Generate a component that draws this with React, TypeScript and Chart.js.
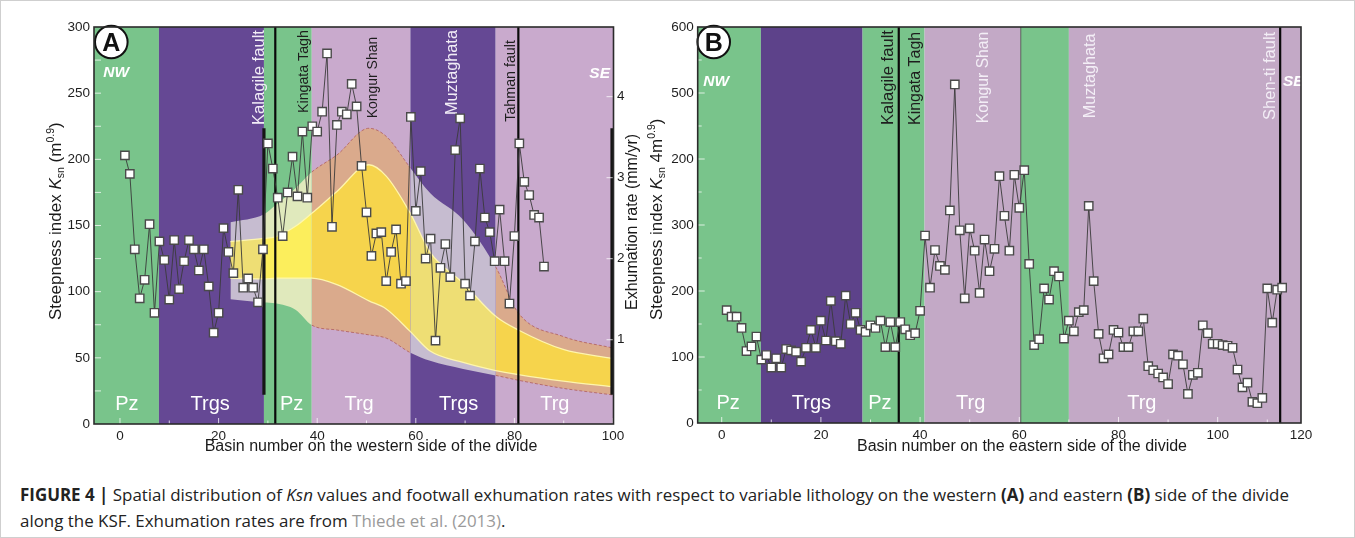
import { useEffect, useRef } from "react";
import { Chart, registerables } from "chart.js";

Chart.register(...registerables);

const FONT = "'Liberation Sans', Arial, Helvetica, sans-serif";
const CAPTION_FONT = "'Open Sans', 'Liberation Sans', Arial, sans-serif";

// ---------------- Panel A : western side ----------------
const basinA = Array.from({ length: 86 }, (_, i) => i + 1);
const ksnA = [
  203, 189, 132, 95, 109, 151, 84, 138, 124, 94,
  139, 102, 123, 139, 132, 116, 132, 104, 69, 84,
  148, 130, 114, 177, 103, 110, 103, 92, 132, 212,
  193, 171, 142, 175, 202, 172, 221, 171, 225, 221,
  236, 280, 149, 226, 236, 234, 257, 240, 195, 160,
  127, 144, 145, 108, 130, 147, 106, 108, 232, 161,
  191, 125, 140, 63, 118, 136, 111, 207, 231, 106,
  97, 138, 193, 156, 145, 123, 162, 123, 91, 142,
  212, 183, 173, 158, 156, 119,
];
const xTicksA = [0, 20, 40, 60, 80, 100];
const yTicksA = [0, 50, 100, 150, 200, 250, 300];
const exhTicksA = [1, 2, 3, 4];

// footwall exhumation rate envelopes (mm/yr), right axis of panel A
const exhX = [22.4, 29.2, 31.5, 35.6, 38.9, 44, 50.5, 54, 58.9, 62.9, 69.6, 76.2, 80.8, 89.9, 99.8];
const exhOuterUpper = [2.45, 2.55, 2.66, 2.87, 3.07, 3.28, 3.61, 3.51, 3.12, 2.81, 2.48, 1.9, 1.33, 1.04, 0.9];
const exhOuterLower = [1.5, 1.46, 1.45, 1.37, 1.18, 1.12, 1.06, 1.02, 0.84, 0.74, 0.64, 0.56, 0.5, 0.4, 0.32];
const exhInnerUpper = [2.21, 2.25, 2.27, 2.4, 2.56, 2.83, 3.16, 3.02, 2.56, 2.08, 1.7, 1.29, 1.12, 0.88, 0.77];
const exhInnerLower = [1.76, 1.75, 1.76, 1.76, 1.76, 1.68, 1.48, 1.38, 1.1, 0.86, 0.72, 0.62, 0.57, 0.49, 0.42];

const lithoBoundsA = [-5.27, 7.9, 29.2, 38.9, 58.9, 76.2, 100.1];
const lithoUnitsA = ["Pz", "Trgs", "Pz", "Trg", "Trgs", "Trg"];
const lithoLabelXA = [1.4, 18.3, 34.8, 48.5, 68.7, 88.2];
const faultsA = [31.5, 80.8];
const frameBarsA = [29.2, 100.1];
const frameBarRangeA = [0.32, 3.61];
const placeNamesA = ["Kalagile fault", "Kingata Tagh", "Kongur Shan", "Muztaghata", "Tahman fault"];
const placeXA = [27.9, 37.1, 51.2, 67.1, 79.0];

// ---------------- Panel B : eastern side ----------------
const basinB = Array.from({ length: 113 }, (_, i) => i + 1);
const ksnB = [
  171, 161, 161, 144, 109, 116, 131, 96, 103, 84,
  98, 84, 112, 110, 108, 93, 114, 141, 114, 155,
  125, 185, 124, 120, 193, 150, 167, 141, 138, 148,
  144, 155, 115, 153, 115, 153, 142, 133, 136, 170,
  284, 205, 262, 238, 232, 322, 513, 292, 189, 295,
  261, 197, 278, 230, 264, 374, 314, 261, 376, 326,
  383, 241, 118, 127, 204, 187, 230, 222, 128, 155,
  139, 168, 171, 329, 215, 135, 98, 104, 141, 137,
  115, 115, 139, 139, 158, 86, 80, 75, 69, 59,
  104, 102, 89, 44, 73, 76, 148, 136, 120, 120,
  118, 117, 114, 81, 54, 61, 32, 30, 38, 204,
  152, 202, 205,
];
const xTicksB = [0, 20, 40, 60, 80, 100, 116.8];
const xTickLabelsB = ["0", "20", "40", "60", "80", "100", "120"];
const yTicksB = [0, 100, 200, 300, 400, 500, 600];
const yTickLabelsB = ["0", "100", "200", "300", "200", "500", "600"];

const lithoBoundsB = [-4.84, 7.9, 28.4, 40.9, 60.3, 70.0, 116.8];
const lithoUnitsB = ["Pz", "Trgs", "Pz", "Trg", "Pz", "Trg"];
const lithoLabelB = ["Pz", "Trgs", "Pz", "Trg", "", "Trg"];
const lithoLabelXB = [1.3, 18.1, 31.9, 50.2, 65, 84.7];
const faultsB = [35.7, 112.6];
const thinLinesB = [60.3];
const placeNamesB = ["Kalagile fault", "Kingata Tagh", "Kongur Shan", "Muztaghata", "Shen-ti fault"];
const placeXB = [33.3, 38.9, 52.6, 74.0, 110.4];

// ---------------- styles ----------------
const paletteA: Record<string, string> = { Pz: "rgb(121,196,139)", Trgs: "rgb(101,72,148)", Trg: "rgb(201,170,205)" };
const paletteB: Record<string, string> = { Pz: "rgb(121,196,139)", Trgs: "rgb(93,66,138)", Trg: "rgb(195,169,198)" };
const overlayOuter: Record<string, string> = { Pz: "rgb(224,233,188)", Trgs: "rgb(198,188,208)", Trg: "rgb(218,170,140)" };
const overlayInner: Record<string, string> = { Pz: "rgb(252,238,92)", Trgs: "rgb(238,222,116)", Trg: "rgb(246,212,76)" };

type Part = { t: string; s: number; it?: boolean; b?: boolean; dy?: number };

function drawRich(ctx: CanvasRenderingContext2D, parts: Part[], x: number, y: number, rot: number, align: "start" | "center", color: string) {
  ctx.save();
  ctx.translate(x, y);
  ctx.rotate(rot);
  ctx.fillStyle = color;
  ctx.textBaseline = "alphabetic";
  ctx.textAlign = "left";
  const fontOf = (p: Part) => `${p.it ? "italic " : ""}${p.b ? "bold " : ""}${p.s}px ${FONT}`;
  let total = 0;
  const ws = parts.map((p) => {
    ctx.font = fontOf(p);
    const w = ctx.measureText(p.t).width;
    total += w;
    return w;
  });
  let cx = align === "center" ? -total / 2 : 0;
  parts.forEach((p, i) => {
    ctx.font = fontOf(p);
    ctx.fillText(p.t, cx, p.dy || 0);
    cx += ws[i];
  });
  ctx.restore();
}

function drawFitVertical(ctx: CanvasRenderingContext2D, text: string, cx: number, yBottom: number, yTop: number, color: string) {
  ctx.save();
  ctx.font = `100px ${FONT}`;
  const w = ctx.measureText(text).width;
  const size = (100 * (yBottom - yTop)) / w;
  ctx.font = `${size}px ${FONT}`;
  ctx.translate(cx + size * 0.36, yBottom);
  ctx.rotate(-Math.PI / 2);
  ctx.textAlign = "left";
  ctx.textBaseline = "alphabetic";
  ctx.fillStyle = color;
  ctx.fillText(text, 0, 0);
  ctx.restore();
}

function unitAt(bounds: number[], units: string[], x: number) {
  for (let i = 0; i < units.length; i++) if (x >= bounds[i] && x < bounds[i + 1]) return units[i];
  return units[units.length - 1];
}

type Decor = {
  offsetX: number;
  bounds: number[];
  units: string[];
  palette: Record<string, string>;
  lithoLabels: string[];
  lithoLabelX: number[];
  faults: number[];
  thinLines: number[];
  places: { text: string; x: number; top: number; bottom: number; color: string }[];
  letter: string;
  letterPos: [number, number];
  nw: [number, number];
  se: [number, number];
  leftTicks: { v: number; len: number }[];
  bottomTicks: { v: number; len: number }[];
  rightTicks?: { v: number; len: number }[];
  frameBars?: boolean;
  titles: (ctx: CanvasRenderingContext2D, ox: number) => void;
};

function makeDecor(d: Decor) {
  return {
    id: "decor" + d.letter,
    beforeDatasetsDraw(chart: any) {
      const { ctx, chartArea: a, scales } = chart;
      const x = scales.x;
      ctx.save();
      ctx.beginPath();
      ctx.rect(a.left, a.top, a.right - a.left, a.bottom - a.top);
      ctx.clip();
      for (let i = 0; i < d.units.length; i++) {
        const x0 = x.getPixelForValue(d.bounds[i]);
        const x1 = x.getPixelForValue(d.bounds[i + 1]);
        ctx.fillStyle = d.palette[d.units[i]];
        ctx.fillRect(x0, a.top, x1 - x0, a.bottom - a.top);
      }
      d.thinLines.forEach((v) => {
        const px = x.getPixelForValue(v);
        ctx.strokeStyle = "rgba(70,70,70,0.8)";
        ctx.lineWidth = 1;
        ctx.beginPath();
        ctx.moveTo(px, a.top);
        ctx.lineTo(px, a.bottom);
        ctx.stroke();
      });
      ctx.fillStyle = "#ffffff";
      ctx.font = `20px ${FONT}`;
      ctx.textAlign = "center";
      ctx.textBaseline = "alphabetic";
      d.lithoLabels.forEach((t, i) => {
        if (t) ctx.fillText(t, x.getPixelForValue(d.lithoLabelX[i]), a.bottom - 14);
      });
      d.places.forEach((p) => {
        drawFitVertical(ctx, p.text, x.getPixelForValue(p.x), a.top + p.bottom, a.top + p.top, p.color);
      });
      ctx.restore();
    },
    beforeDatasetDraw(chart: any, args: any) {
      if (args.index !== 0) return;
      const { ctx, chartArea: a, scales } = chart;
      const x = scales.x;
      ctx.save();
      ctx.strokeStyle = "#0a0a0a";
      d.faults.forEach((v) => {
        const px = x.getPixelForValue(v);
        ctx.lineWidth = 2.2;
        ctx.beginPath();
        ctx.moveTo(px, a.top);
        ctx.lineTo(px, a.bottom);
        ctx.stroke();
      });
      if (d.frameBars && scales.y2) {
        const y0 = scales.y2.getPixelForValue(frameBarRangeA[0]);
        const y1 = scales.y2.getPixelForValue(frameBarRangeA[1]);
        frameBarsA.forEach((v, i) => {
          const px = Math.min(x.getPixelForValue(v), a.right) - (i === 1 ? 1.5 : 0);
          ctx.lineWidth = 3.2;
          ctx.strokeStyle = "#161616";
          ctx.beginPath();
          ctx.moveTo(px, y0);
          ctx.lineTo(px, y1);
          ctx.stroke();
        });
      }
      ctx.restore();
    },
    afterDatasetsDraw(chart: any) {
      const { ctx, chartArea: a, scales } = chart;
      ctx.save();
      ctx.strokeStyle = "rgba(255,255,255,0.75)";
      ctx.lineWidth = 1;
      d.leftTicks.forEach((t) => {
        const py = scales.y.getPixelForValue(t.v);
        ctx.beginPath();
        ctx.moveTo(a.left, py);
        ctx.lineTo(a.left + t.len, py);
        ctx.stroke();
      });
      d.bottomTicks.forEach((t) => {
        const px = scales.x.getPixelForValue(t.v);
        ctx.beginPath();
        ctx.moveTo(px, a.bottom);
        ctx.lineTo(px, a.bottom - t.len);
        ctx.stroke();
      });
      if (d.rightTicks && scales.y2) {
        d.rightTicks.forEach((t) => {
          const py = scales.y2.getPixelForValue(t.v);
          ctx.beginPath();
          ctx.moveTo(a.right, py);
          ctx.lineTo(a.right - t.len, py);
          ctx.stroke();
        });
      }
      ctx.beginPath();
      ctx.rect(a.left, a.top, a.right - a.left, a.bottom - a.top);
      ctx.clip();
      ctx.fillStyle = "#ffffff";
      ctx.font = `italic bold 15.5px ${FONT}`;
      ctx.textBaseline = "alphabetic";
      ctx.textAlign = "left";
      ctx.fillText("NW", a.left + d.nw[0], a.top + d.nw[1]);
      ctx.fillText("SE", a.left + d.se[0], a.top + d.se[1]);
      ctx.restore();
      ctx.save();
      const cx = a.left + d.letterPos[0];
      const cy = a.top + d.letterPos[1];
      ctx.beginPath();
      ctx.arc(cx, cy, 16.3, 0, Math.PI * 2);
      ctx.fillStyle = "#ffffff";
      ctx.fill();
      ctx.lineWidth = 2;
      ctx.strokeStyle = "#111";
      ctx.stroke();
      ctx.fillStyle = "#111";
      ctx.font = `bold 25px ${FONT}`;
      ctx.textAlign = "center";
      ctx.textBaseline = "alphabetic";
      ctx.fillText(d.letter, cx, cy + 9);
      ctx.restore();
    },
    afterDraw(chart: any) {
      const { ctx, chartArea: a } = chart;
      ctx.save();
      ctx.strokeStyle = "#2b2b2b";
      ctx.lineWidth = 1.6;
      ctx.strokeRect(a.left, a.top, a.right - a.left, a.bottom - a.top);
      d.titles(ctx, d.offsetX);
      ctx.restore();
    },
  };
}

const ticksEvery = (from: number, to: number, step: number, major: number, lMaj: number, lMin: number) => {
  const out: { v: number; len: number }[] = [];
  for (let v = from; v <= to + 1e-9; v += step) out.push({ v, len: Math.abs(v % major) < 1e-9 ? lMaj : lMin });
  return out;
};

const tickFont = { family: FONT, size: 13.5 };
const pointStyleOpts = {
  borderColor: "#3a3a3a",
  borderWidth: 0.9,
  pointStyle: "rect",
  pointRadius: 5.9,
  pointBackgroundColor: "#ffffff",
  pointBorderColor: "#4a4a4a",
  pointBorderWidth: 1.4,
  tension: 0,
  fill: false,
};

function buildA() {
  const segUnit = (c: any) => unitAt(lithoBoundsA, lithoUnitsA, (c.p0.parsed.x + c.p1.parsed.x) / 2);
  const dashBorder = (c: any) => (segUnit(c) === "Trg" ? "rgba(178,98,98,0.85)" : "rgba(0,0,0,0)");
  const bandLine = { pointRadius: 0, pointHitRadius: 0, cubicInterpolationMode: "monotone", xAxisID: "x", yAxisID: "y2" };
  const decor = makeDecor({
    offsetX: 0,
    bounds: lithoBoundsA,
    units: lithoUnitsA,
    palette: paletteA,
    lithoLabels: lithoUnitsA,
    lithoLabelX: lithoLabelXA,
    faults: faultsA,
    thinLines: [],
    places: [
      { text: placeNamesA[0], x: placeXA[0], top: 3, bottom: 98, color: "#f1ecf6" },
      { text: placeNamesA[1], x: placeXA[1], top: 3, bottom: 86, color: "#1e1e1e" },
      { text: placeNamesA[2], x: placeXA[2], top: 9.7, bottom: 91.3, color: "#1e1e1e" },
      { text: placeNamesA[3], x: placeXA[3], top: 3, bottom: 88, color: "#f1ecf6" },
      { text: placeNamesA[4], x: placeXA[4], top: 13, bottom: 94.7, color: "#1e1e1e" },
    ],
    letter: "A",
    letterPos: [17.3, 15],
    nw: [9.3, 50],
    se: [495.3, 50.5],
    leftTicks: ticksEvery(25, 275, 25, 50, 7, 7),
    bottomTicks: ticksEvery(0, 100, 10, 20, 6, 3.5),
    rightTicks: exhTicksA.map((v) => ({ v, len: 7 })),
    frameBars: true,
    titles: (ctx, ox) => {
      drawRich(ctx, [
        { t: "Steepness index ", s: 17 },
        { t: "K", s: 17, it: true },
        { t: "sn", s: 10.5, dy: 3.5 },
        { t: " (m", s: 17 },
        { t: "0.9", s: 10.5, dy: -7 },
        { t: ")", s: 17 },
      ], 60.5 - ox, 320, -Math.PI / 2, "start", "#1a1a1a");
      drawRich(ctx, [{ t: "Exhumation rate (mm/yr)", s: 16 }], 636.5 - ox, 310, -Math.PI / 2, "start", "#1a1a1a");
      drawRich(ctx, [{ t: "Basin number on the western side of the divide", s: 16 }], 371 - ox, 451, 0, "center", "#1a1a1a");
    },
  });
  return {
    type: "line",
    data: {
      datasets: [
        {
          ...pointStyleOpts,
          label: "Ksn west",
          data: basinA.map((b, i) => ({ x: b, y: ksnA[i] })),
          xAxisID: "x",
          yAxisID: "y",
          order: 0,
        },
        {
          ...bandLine,
          label: "outer upper",
          data: exhX.map((x, i) => ({ x, y: exhOuterUpper[i] })),
          borderWidth: 1,
          borderDash: [3, 2],
          borderColor: "rgba(178,98,98,0.85)",
          backgroundColor: overlayOuter.Trg,
          fill: "+1",
          segment: { backgroundColor: (c: any) => overlayOuter[segUnit(c)], borderColor: dashBorder },
          order: 5,
        },
        {
          ...bandLine,
          label: "outer lower",
          data: exhX.map((x, i) => ({ x, y: exhOuterLower[i] })),
          borderWidth: 1,
          borderDash: [3, 2],
          borderColor: "rgba(178,98,98,0.85)",
          fill: false,
          segment: { borderColor: dashBorder },
          order: 4,
        },
        {
          ...bandLine,
          label: "inner upper",
          data: exhX.map((x, i) => ({ x, y: exhInnerUpper[i] })),
          borderWidth: 1.3,
          borderColor: "rgba(255,248,175,0.95)",
          backgroundColor: overlayInner.Trg,
          fill: "+1",
          segment: { backgroundColor: (c: any) => overlayInner[segUnit(c)] },
          order: 3,
        },
        {
          ...bandLine,
          label: "inner lower",
          data: exhX.map((x, i) => ({ x, y: exhInnerLower[i] })),
          borderWidth: 1.3,
          borderColor: "rgba(255,248,175,0.95)",
          fill: false,
          order: 2,
        },
      ],
    },
    options: {
      responsive: false,
      devicePixelRatio: 1,
      animation: false,
      events: [],
      layout: { padding: { top: 27, left: 0, right: 0, bottom: 0 } },
      plugins: { legend: { display: false }, tooltip: { enabled: false } },
      scales: {
        x: {
          type: "linear",
          min: lithoBoundsA[0],
          max: lithoBoundsA[lithoBoundsA.length - 1],
          afterBuildTicks: (s: any) => { s.ticks = xTicksA.map((v) => ({ value: v })); },
          ticks: { font: tickFont, color: "#1e1e1e", padding: 4, maxRotation: 0, autoSkip: false },
          grid: { display: false, drawTicks: false },
          border: { display: false },
          afterFit: (s: any) => { s.height = 46; },
        },
        y: {
          type: "linear",
          position: "left",
          min: 0,
          max: 300,
          afterBuildTicks: (s: any) => { s.ticks = yTicksA.map((v) => ({ value: v })); },
          ticks: { font: tickFont, color: "#1e1e1e", padding: 4, autoSkip: false },
          grid: { display: false, drawTicks: false },
          border: { display: false },
          afterFit: (s: any) => { s.width = 94; },
        },
        y2: {
          type: "linear",
          position: "right",
          min: -0.04,
          max: 4.86,
          afterBuildTicks: (s: any) => { s.ticks = exhTicksA.map((v) => ({ value: v })); },
          ticks: { font: tickFont, color: "#1e1e1e", padding: 3.5, autoSkip: false },
          grid: { display: false, drawTicks: false },
          border: { display: false },
          afterFit: (s: any) => { s.width = 46.5; },
        },
      },
    },
    plugins: [decor],
  };
}

function buildB() {
  const decor = makeDecor({
    offsetX: 640,
    bounds: lithoBoundsB,
    units: lithoUnitsB,
    palette: paletteB,
    lithoLabels: lithoLabelB,
    lithoLabelX: lithoLabelXB,
    faults: faultsB,
    thinLines: thinLinesB,
    places: [
      { text: placeNamesB[0], x: placeXB[0], top: 3, bottom: 98, color: "#1e1e1e" },
      { text: placeNamesB[1], x: placeXB[1], top: 4.7, bottom: 98, color: "#1e1e1e" },
      { text: placeNamesB[2], x: placeXB[2], top: 4.7, bottom: 96.3, color: "#f3eef6" },
      { text: placeNamesB[3], x: placeXB[3], top: 6.3, bottom: 91.3, color: "#f3eef6" },
      { text: placeNamesB[4], x: placeXB[4], top: 4.7, bottom: 93, color: "#f3eef6" },
    ],
    letter: "B",
    letterPos: [16, 15],
    nw: [5.6, 58.5],
    se: [585.3, 59],
    leftTicks: ticksEvery(50, 550, 50, 100, 7, 4),
    bottomTicks: ticksEvery(0, 110, 10, 20, 6, 3.5),
    titles: (ctx, ox) => {
      drawRich(ctx, [
        { t: "Steepness index ", s: 17 },
        { t: "K", s: 17, it: true },
        { t: "sn", s: 10.5, dy: 3.5 },
        { t: " 4m", s: 17 },
        { t: "0.9", s: 10.5, dy: -7 },
        { t: ")", s: 17 },
      ], 661.5 - ox, 320, -Math.PI / 2, "start", "#1a1a1a");
      drawRich(ctx, [{ t: "Basin number on the eastern side of the divide", s: 16 }], 1022 - ox, 451, 0, "center", "#1a1a1a");
    },
  });
  return {
    type: "line",
    data: {
      datasets: [
        {
          ...pointStyleOpts,
          label: "Ksn east",
          data: basinB.map((b, i) => ({ x: b, y: ksnB[i] })),
        },
      ],
    },
    options: {
      responsive: false,
      devicePixelRatio: 1,
      animation: false,
      events: [],
      layout: { padding: { top: 27, left: 0, right: 54, bottom: 0 } },
      plugins: { legend: { display: false }, tooltip: { enabled: false } },
      scales: {
        x: {
          type: "linear",
          min: lithoBoundsB[0],
          max: lithoBoundsB[lithoBoundsB.length - 1],
          afterBuildTicks: (s: any) => { s.ticks = xTicksB.map((v) => ({ value: v })); },
          ticks: {
            font: tickFont, color: "#1e1e1e", padding: 4, maxRotation: 0, autoSkip: false,
            callback: (_v: any, i: number) => xTickLabelsB[i],
          },
          grid: { display: false, drawTicks: false },
          border: { display: false },
          afterFit: (s: any) => { s.height = 47; },
        },
        y: {
          type: "linear",
          position: "left",
          min: 0,
          max: 600,
          afterBuildTicks: (s: any) => { s.ticks = yTicksB.map((v) => ({ value: v })); },
          ticks: {
            font: tickFont, color: "#1e1e1e", padding: 4, autoSkip: false,
            callback: (_v: any, i: number) => yTickLabelsB[i],
          },
          grid: { display: false, drawTicks: false },
          border: { display: false },
          afterFit: (s: any) => { s.width = 57.7; },
        },
      },
    },
    plugins: [decor],
  };
}

export default function App() {
  const refA = useRef<HTMLCanvasElement>(null);
  const refB = useRef<HTMLCanvasElement>(null);
  const line1 = useRef<HTMLSpanElement>(null);
  const caption = useRef<HTMLDivElement>(null);
  useEffect(() => {
    const a = new Chart(refA.current as HTMLCanvasElement, buildA() as any);
    const b = new Chart(refB.current as HTMLCanvasElement, buildB() as any);
    if (line1.current && caption.current) {
      const w = line1.current.getBoundingClientRect().width;
      if (w > 0) caption.current.style.fontSize = `${(16 * 1270) / w}px`;
    }
    return () => {
      a.destroy();
      b.destroy();
    };
  }, []);
  return (
    <div style={{ position: "absolute", left: 0, top: 0, width: 1355, height: 538, background: "#fff", overflow: "hidden", fontFamily: FONT }}>
      <canvas ref={refA} width={660} height={470} style={{ position: "absolute", left: 0, top: 0, width: 660, height: 470 }} />
      <canvas ref={refB} width={715} height={470} style={{ position: "absolute", left: 640, top: 0, width: 715, height: 470 }} />
      <div ref={caption} style={{ position: "absolute", left: 20, top: 482, fontSize: 16, lineHeight: "26px", color: "#222", whiteSpace: "nowrap", fontFamily: CAPTION_FONT }}>
        <span ref={line1}>
          <b>FIGURE 4 |</b> Spatial distribution of <i>Ksn</i> values and footwall exhumation rates with respect to variable lithology on the western <b>(A)</b> and eastern <b>(B)</b> side of the divide
        </span>
        <br />
        along the KSF. Exhumation rates are from <span style={{ color: "#9a9a9a" }}>Thiede et al. (2013)</span>.
      </div>
      <div style={{ position: "absolute", left: 0, top: 0, width: 1355, height: 538, boxSizing: "border-box", border: "1px solid #cfcfcf", pointerEvents: "none" }} />
    </div>
  );
}
